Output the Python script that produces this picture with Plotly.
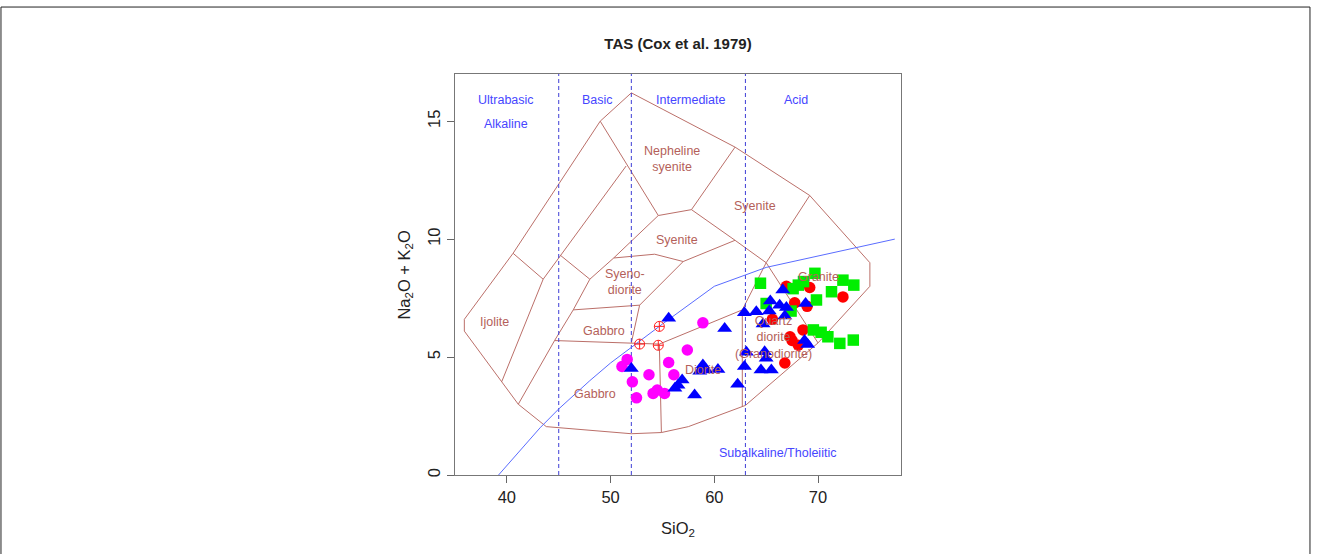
import plotly.graph_objects as go

# ---------------------------------------------------------------
# TAS diagram after Cox et al. (1979), plutonic version
# ---------------------------------------------------------------

# Outer envelope of the classification fields (SiO2, Na2O+K2O)
outer_x = [52.0, 62.0, 69.2, 75.0, 75.0, 70.0, 63.0, 57.5, 54.9, 52.0, 43.8, 41.1, 35.9, 35.9, 40.6, 49.0, 52.0]
outer_y = [16.2, 13.9, 11.85, 9.0, 8.0, 5.6, 2.95, 2.05, 1.8, 1.75, 2.05, 3.0, 6.1, 6.6, 9.4, 15.0, 16.2]

# Internal field boundaries
ijolite_right_x = [51.5, 45.2, 43.5, 39.5]
ijolite_right_y = [13.1, 9.3, 8.3, 3.95]
ijolite_top_x = [40.6, 43.5]
ijolite_top_y = [9.4, 8.3]
ultra_tie_x = [45.2, 48.0]
ultra_tie_y = [9.3, 8.3]
nephsy_left_x = [49.0, 54.6]
nephsy_left_y = [15.0, 11.0]
gabbro_left_x = [41.1, 44.6, 46.4, 48.0, 50.3, 54.6]
gabbro_left_y = [3.0, 5.7, 7.0, 8.3, 9.2, 11.0]
gabbro_top_x = [46.4, 52.8]
gabbro_top_y = [7.0, 7.2]
diorite_top_x = [44.6, 52.0, 54.7, 62.7, 65.0]
diorite_top_y = [5.7, 5.6, 5.55, 7.0, 9.0]
syenodiorite_right_x = [52.0, 52.8, 57.0, 62.0, 65.0, 69.2]
syenodiorite_right_y = [5.6, 7.2, 9.05, 9.95, 9.0, 11.85]
syenodiorite_top_x = [50.3, 54.25, 57.0]
syenodiorite_top_y = [9.2, 9.36, 9.05]
nephsy_base_x = [54.6, 57.8, 62.0]
nephsy_base_y = [11.0, 11.25, 13.9]
syenite_split_x = [57.8, 62.0]
syenite_split_y = [11.25, 9.95]
granite_base_x = [65.0, 70.0]
granite_base_y = [9.0, 5.6]
granodiorite_left_x = [62.7, 62.7]
granodiorite_left_y = [7.0, 2.9]
diorite_left_x = [54.7, 54.9]
diorite_left_y = [5.55, 1.8]

# Alkaline / subalkaline divide (Irvine & Baragar 1971)
ib_x = [39.2, 40, 43.2, 45, 48, 50, 53.7, 55, 60, 65, 77.4]
ib_y = [0, 0.4, 2, 2.8, 4, 4.75, 6, 6.4, 8, 8.8, 10]

# Silica saturation divisions
silica_divs = [45, 52, 63]

# Field names
field_text = ["Nepheline<br>syenite", "Syenite", "Syenite", "Syeno-<br>diorite", "Gabbro",
              "Gabbro", "Ijolite", "Diorite", "Granite", "Quartz<br>diorite<br>(Granodiorite)"]
field_x = [55.9, 63.9, 56.45, 51.35, 49.4, 48.45, 38.8, 58.9, 70.05, 65.75]
field_y = [13.4, 11.42, 9.95, 8.2, 6.1, 3.43, 6.48, 4.45, 8.39, 5.85]

# Silica class / series names
class_text = ["Ultrabasic", "Alkaline", "Basic", "Intermediate", "Acid", "Subalkaline/Tholeiitic"]
class_x = [39.88, 39.88, 48.75, 57.8, 67.9, 66.1]
class_y = [15.89, 14.87, 15.89, 15.89, 15.89, 0.93]

# Samples
cross_x = [54.7, 52.8, 54.6]
cross_y = [6.3, 5.55, 5.5]

magenta_x = [51.6, 51.1, 52.1, 52.5, 53.7, 54.1, 54.5, 55.2, 55.6, 56.1, 57.4, 58.9]
magenta_y = [4.9, 4.6, 3.95, 3.27, 4.25, 3.46, 3.6, 3.46, 4.77, 4.25, 5.3, 6.45]

red_x = [66.95, 69.2, 72.4, 67.75, 68.95, 65.6, 68.55, 67.3, 67.5, 68.1, 66.8]
red_y = [8.0, 7.95, 7.55, 7.3, 7.15, 6.6, 6.15, 5.86, 5.7, 5.5, 4.75]

green_x = [64.45, 67.6, 68.1, 68.6, 69.7, 71.3, 72.4, 73.45, 69.85, 67.4, 65.0,
           69.55, 70.3, 70.95, 72.1, 73.4]
green_y = [8.13, 7.9, 8.05, 8.2, 8.55, 7.77, 8.26, 8.05, 7.42, 6.95, 7.27,
           6.15, 6.05, 5.86, 5.58, 5.72]

blue_x = [55.6, 52.0, 61.0, 58.9, 59.2, 60.35, 58.6, 56.9, 56.5, 56.2, 58.1, 62.25,
          62.9, 63.1, 62.9, 64.05, 64.7, 64.85, 65.0, 64.5, 65.5, 65.4, 66.6, 66.3,
          66.95, 66.8, 65.3, 68.8, 68.7, 69.0]
blue_y = [6.64, 4.52, 6.21, 4.66, 4.45, 4.47, 4.4, 4.03, 3.81, 3.68, 3.39, 3.85,
          4.6, 5.2, 6.88, 6.92, 6.4, 5.22, 4.95, 4.45, 4.45, 7.38, 7.84, 7.2,
          7.1, 6.74, 6.95, 7.27, 5.7, 5.53]

x_ticks = [40, 50, 60, 70]
y_ticks = [0, 5, 10, 15]

BROWN = "#bb6f69"
BROWN_TXT = "#b45f5a"
BLUE_TXT = "#4646ff"
DASH_BLUE = "#3e3ed6"
FONT = "Liberation Sans, Arial, sans-serif"

fig = go.Figure()

# Field boundaries drawn as one polyline trace
polylines = [
    (outer_x, outer_y), (ijolite_right_x, ijolite_right_y), (ijolite_top_x, ijolite_top_y),
    (ultra_tie_x, ultra_tie_y), (nephsy_left_x, nephsy_left_y), (gabbro_left_x, gabbro_left_y),
    (gabbro_top_x, gabbro_top_y), (diorite_top_x, diorite_top_y),
    (syenodiorite_right_x, syenodiorite_right_y), (syenodiorite_top_x, syenodiorite_top_y),
    (nephsy_base_x, nephsy_base_y), (syenite_split_x, syenite_split_y),
    (granite_base_x, granite_base_y), (granodiorite_left_x, granodiorite_left_y),
    (diorite_left_x, diorite_left_y),
]
bx, by = [], []
for xs, ys in polylines:
    bx += list(xs) + [None]
    by += list(ys) + [None]
fig.add_trace(go.Scatter(x=bx, y=by, mode="lines", line=dict(color=BROWN, width=1),
                         hoverinfo="skip"))

# Silica divisions
for sx in silica_divs:
    fig.add_trace(go.Scatter(x=[sx, sx], y=[0, 17], mode="lines",
                             line=dict(color=DASH_BLUE, width=1, dash="4px,3px"),
                             hoverinfo="skip"))

# Alkaline / subalkaline divide
fig.add_trace(go.Scatter(x=ib_x, y=ib_y, mode="lines", line=dict(color="#5a6cff", width=1),
                         hoverinfo="skip"))

# Samples
fig.add_trace(go.Scatter(x=cross_x, y=cross_y, mode="markers",
                         marker=dict(symbol="circle-cross-open", size=10, color="#ff2020",
                                     line=dict(width=1, color="#ff2020"))))
fig.add_trace(go.Scatter(x=magenta_x, y=magenta_y, mode="markers",
                         marker=dict(symbol="circle", size=11.5, color="#ff00ff", line=dict(width=0))))
fig.add_trace(go.Scatter(x=red_x, y=red_y, mode="markers",
                         marker=dict(symbol="circle", size=11.5, color="#ff0000", line=dict(width=0))))
fig.add_trace(go.Scatter(x=green_x, y=green_y, mode="markers",
                         marker=dict(symbol="square", size=11.5, color="#00ee00", line=dict(width=0))))
fig.add_trace(go.Scatter(x=blue_x, y=blue_y, mode="markers",
                         marker=dict(symbol="triangle-up", size=13, color="#0000ff", line=dict(width=0))))

annotations = []
for t, x, y in zip(field_text, field_x, field_y):
    annotations.append(dict(x=x, y=y, xref="x", yref="y", text=t, showarrow=False,
                            font=dict(family=FONT, size=12.5, color=BROWN_TXT)))
for t, x, y in zip(class_text, class_x, class_y):
    annotations.append(dict(x=x, y=y, xref="x", yref="y", text=t, showarrow=False,
                            font=dict(family=FONT, size=12.5, color=BLUE_TXT)))

# Axis titles
annotations.append(dict(x=0.5, y=-0.164, xref="paper", yref="paper", text="SiO<sub>2</sub>",
                        showarrow=False, font=dict(family=FONT, size=16.5, color="#222")))
annotations.append(dict(x=-0.141, y=0.5, xref="paper", yref="paper",
                        text="Na<sub>2</sub>O + K<sub>2</sub>O", textangle=-90,
                        showarrow=False, font=dict(family=FONT, size=16.5, color="#222")))

fig.update_layout(
    width=1319, height=554,
    margin=dict(l=455, r=418, t=74, b=79),
    paper_bgcolor="white", plot_bgcolor="white",
    showlegend=False,
    font=dict(family=FONT, color="#222"),
    title=dict(text="<b>TAS (Cox et al. 1979)</b>", x=0.5, xref="paper", xanchor="center",
               y=1 - 44 / 554, yref="container", yanchor="middle",
               font=dict(family=FONT, size=15, color="#222")),
    annotations=annotations,
    shapes=[dict(type="path", xref="paper", yref="paper",
                 path="M -1.018,-0.22 L -1.018,1.167 L 1.917,1.167 L 1.917,-0.22",
                 line=dict(color="#222", width=1))],
)
fig.update_xaxes(range=[35, 78], tickvals=x_ticks, ticks="outside", ticklen=7,
                 tickcolor="#666", showline=True, mirror=True, linecolor="#777",
                 linewidth=1, showgrid=False, zeroline=False,
                 tickfont=dict(family=FONT, size=16.5, color="#222"))
fig.update_yaxes(range=[0, 17], tickvals=y_ticks, ticks="outside", ticklen=7,
                 tickcolor="#666", showline=True, mirror=True, linecolor="#777",
                 linewidth=1, showgrid=False, zeroline=False, tickangle=-90,
                 tickfont=dict(family=FONT, size=16.5, color="#222"))

fig.write_html("out.html", config={"displayModeBar": False})
